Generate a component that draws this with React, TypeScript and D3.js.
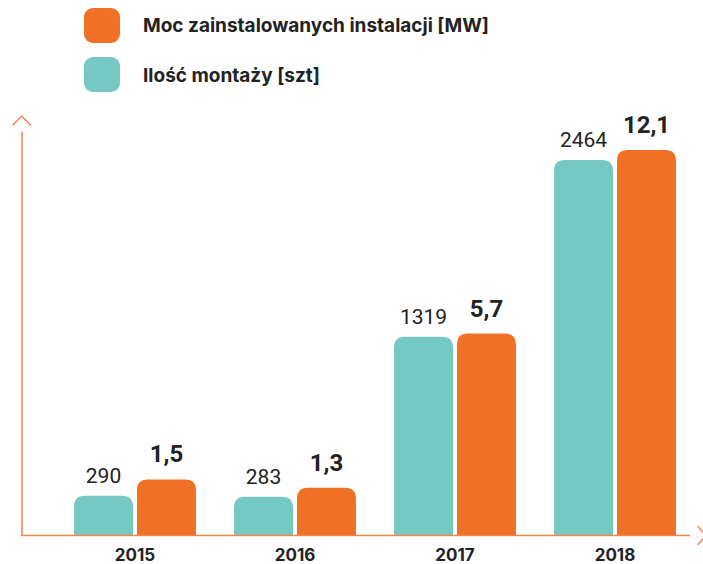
import React from "react";
import * as d3 from "d3";

const years = ["2015", "2016", "2017", "2018"];
const installCount = [290, 283, 1319, 2464];
const installPower = [1.5, 1.3, 5.7, 12.1];
const installPowerLabels = ["1,5", "1,3", "5,7", "12,1"];
const legendLabels = ["Moc zainstalowanych instalacji [MW]", "Ilość montaży [szt]"];

const TEAL = "#76C9C2";
const ORANGE = "#F07026";
const AXIS = "#F0884A";
const TEXT = "#222222";

const W = 703;
const H = 564;
const BASE = 535.5;

function topRounded(x: number, y: number, w: number, h: number, r: number) {
  const rr = Math.min(r, h, w / 2);
  return `M${x},${y + h}V${y + rr}Q${x},${y} ${x + rr},${y}H${x + w - rr}Q${x + w},${y} ${x + w},${y + rr}V${y + h}Z`;
}

export default function App() {
  const x = d3.scaleBand<string>().domain(years).range([55, 695]);
  const inner = d3
    .scaleBand<string>()
    .domain(["count", "power"])
    .range([-61, 61])
    .paddingInner(4 / 63);
  const yCount = d3.scaleLinear().domain([32, 2464]).range([BASE, 160]);
  const yPower = d3.scalePow().exponent(0.8).domain([0.287, 12.1]).range([BASE, 150]);
  const bw = inner.bandwidth();
  const font = "Roboto, 'Noto Sans', sans-serif";
  const font2 = "Inter, Roboto, sans-serif";

  return (
    <svg
      width={W}
      height={H}
      style={{ position: "absolute", left: 0, top: 0, display: "block" }}
      fontFamily={font}
    >
      {/* legend */}
      <rect x={84} y={8} width={36} height={35} rx={9} fill={ORANGE} />
      <rect x={84} y={57} width={36} height={35} rx={9} fill={TEAL} />
      <text x={143} y={32} fontSize={19} fontWeight={700} fill={TEXT} fontFamily={font2}>
        {legendLabels[0]}
      </text>
      <text x={143} y={82} fontSize={19} fontWeight={700} fill={TEXT} fontFamily={font2}>
        {legendLabels[1]}
      </text>

      {/* bars */}
      {years.map((yr, i) => {
        const cx = (x(yr) as number) + x.bandwidth() / 2;
        const xc = cx + (inner("count") as number);
        const xp = cx + (inner("power") as number);
        const yc = yCount(installCount[i]);
        const yp = yPower(installPower[i]);
        return (
          <g key={yr}>
            <path d={topRounded(xc, yc, bw, BASE - yc, 11)} fill={TEAL} />
            <path d={topRounded(xp, yp, bw, BASE - yp, 11)} fill={ORANGE} />
            <text
              x={xc + bw / 2}
              y={yc - 13}
              textAnchor="middle"
              fontSize={21}
              fill={TEXT}
            >
              {installCount[i]}
            </text>
            <text
              x={xp + bw / 2}
              y={yp - 17}
              textAnchor="middle"
              fontSize={24}
              fontWeight={700}
              fill={TEXT}
            >
              {installPowerLabels[i]}
            </text>
            <text
              x={cx}
              y={561}
              textAnchor="middle"
              fontSize={17}
              fontWeight={700}
              fill={TEXT}
              fontFamily={font2}
            >
              {yr}
            </text>
          </g>
        );
      })}

      {/* axes */}
      <line x1={22} y1={131.5} x2={22} y2={BASE} stroke={AXIS} strokeWidth={1.5} />
      <polyline
        points="12.5,125.5 21.7,116 31,125.5"
        fill="none"
        stroke={AXIS}
        strokeWidth={1.5}
      />
      <line x1={21.3} y1={BASE} x2={690} y2={BASE} stroke={AXIS} strokeWidth={1.5} />
      <polyline
        points="697.5,526 706,535.5 697.5,545"
        fill="none"
        stroke={AXIS}
        strokeWidth={1.5}
      />
    </svg>
  );
}
